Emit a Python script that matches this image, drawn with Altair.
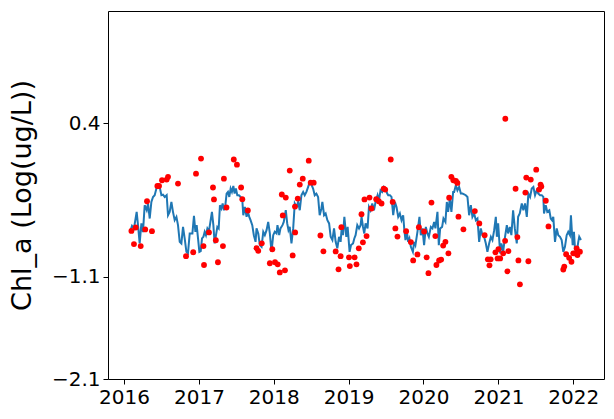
import altair as alt
import pandas as pd

# Modelled series (blue line): decimal year and Chl_a (log ug/L)
line_year = [
    2016.089, 2016.107, 2016.133, 2016.169, 2016.187, 2016.209, 2016.232, 2016.253, 2016.276, 2016.303,
    2016.320, 2016.343, 2016.365, 2016.387, 2016.409, 2016.432, 2016.453, 2016.476, 2016.499, 2016.520,
    2016.543, 2016.569, 2016.587, 2016.609, 2016.632, 2016.653, 2016.676, 2016.699, 2016.720, 2016.743,
    2016.765, 2016.787, 2016.809, 2016.832, 2016.853, 2016.876,
    2016.912, 2016.933, 2016.952, 2016.969, 2016.987, 2017.005, 2017.023, 2017.040, 2017.059, 2017.076,
    2017.093, 2017.112, 2017.133, 2017.156, 2017.173, 2017.192, 2017.209, 2017.227, 2017.245, 2017.263,
    2017.280, 2017.299, 2017.316, 2017.333, 2017.352, 2017.369, 2017.387, 2017.405, 2017.423, 2017.440,
    2017.459, 2017.476, 2017.493, 2017.512, 2017.533, 2017.556, 2017.579, 2017.592, 2017.613, 2017.636,
    2017.653, 2017.672, 2017.689, 2017.712, 2017.733, 2017.756,
    2017.769, 2017.792, 2017.813, 2017.836, 2017.859, 2017.880, 2017.903, 2017.925, 2017.947, 2017.969,
    2017.992, 2018.013, 2018.036, 2018.049, 2018.072, 2018.089, 2018.116, 2018.133, 2018.160, 2018.179,
    2018.196, 2018.213, 2018.236, 2018.259, 2018.280, 2018.303, 2018.325, 2018.347, 2018.369, 2018.392,
    2018.413, 2018.436, 2018.459, 2018.480, 2018.503, 2018.525, 2018.547, 2018.569, 2018.592, 2018.613,
    2018.636,
    2018.649, 2018.672, 2018.693, 2018.716, 2018.739, 2018.760, 2018.783, 2018.805, 2018.827, 2018.849,
    2018.872, 2018.893, 2018.907, 2018.925, 2018.943, 2018.969, 2018.987, 2019.013, 2019.032, 2019.059,
    2019.076, 2019.093, 2019.116, 2019.139, 2019.160, 2019.173, 2019.192, 2019.209, 2019.227, 2019.253,
    2019.272, 2019.293, 2019.316, 2019.339, 2019.360, 2019.387, 2019.405, 2019.427, 2019.449, 2019.472,
    2019.493, 2019.516,
    2019.529, 2019.552, 2019.573, 2019.596, 2019.619, 2019.640, 2019.663, 2019.685, 2019.707, 2019.729,
    2019.743, 2019.760, 2019.779, 2019.796, 2019.813, 2019.832, 2019.859, 2019.876, 2019.893, 2019.920,
    2019.947, 2019.965, 2019.987, 2020.009, 2020.032, 2020.053, 2020.072, 2020.099, 2020.120, 2020.143,
    2020.160, 2020.187, 2020.205, 2020.223, 2020.249, 2020.267, 2020.293, 2020.312, 2020.329, 2020.352,
    2020.373, 2020.396,
    2020.409, 2020.432, 2020.453, 2020.476, 2020.499, 2020.520, 2020.543, 2020.565, 2020.587, 2020.609,
    2020.632, 2020.653, 2020.676, 2020.699, 2020.720, 2020.743, 2020.765, 2020.787, 2020.809, 2020.832,
    2020.853, 2020.876, 2020.899, 2020.920, 2020.943, 2020.965, 2020.979, 2020.996, 2021.023, 2021.040,
    2021.063, 2021.085, 2021.112, 2021.129, 2021.152, 2021.173, 2021.196, 2021.219, 2021.245, 2021.263,
    2021.285,
    2021.312, 2021.333, 2021.356, 2021.379, 2021.400, 2021.423, 2021.445, 2021.467, 2021.489, 2021.512,
    2021.533, 2021.556, 2021.579, 2021.600, 2021.609, 2021.632, 2021.653, 2021.680, 2021.699, 2021.716,
    2021.733, 2021.756, 2021.779, 2021.800, 2021.823, 2021.845, 2021.867, 2021.889, 2021.912, 2021.933,
    2021.956, 2021.969, 2021.992, 2022.009, 2022.023, 2022.045, 2022.067, 2022.080, 2022.103,
]
line_value = [
    -0.644, -0.602, -0.627, -0.465, -0.595, -0.774, -0.578, -0.663, -0.400, -0.449,
    -0.383, -0.530, -0.368, -0.319, -0.302, -0.237, -0.205, -0.221, -0.302, -0.296,
    -0.319, -0.302, -0.498, -0.465, -0.368, -0.465, -0.546, -0.514, -0.595, -0.758,
    -0.774, -0.612, -0.725, -0.856, -0.871, -0.676,
    -0.676, -0.504, -0.660, -0.595, -0.725, -0.856, -0.849, -0.725, -0.709, -0.660,
    -0.693, -0.627, -0.654, -0.546, -0.465, -0.595, -0.774, -0.693, -0.612, -0.627,
    -0.400, -0.432, -0.383, -0.449, -0.400, -0.286, -0.270, -0.319, -0.237, -0.270,
    -0.212, -0.286, -0.237, -0.302, -0.302, -0.319, -0.351, -0.498, -0.417, -0.514,
    -0.465, -0.514, -0.546, -0.595, -0.693, -0.758,
    -0.627, -0.676, -0.790, -0.807, -0.660, -0.693, -0.644, -0.563, -0.676, -0.856,
    -0.693, -0.660, -0.676, -0.595, -0.693, -0.627, -0.595, -0.563, -0.449, -0.578,
    -0.644, -0.612, -0.774, -0.627, -0.383, -0.417, -0.368, -0.449, -0.302, -0.270,
    -0.302, -0.270, -0.221, -0.173, -0.198, -0.237, -0.302, -0.286, -0.319, -0.498,
    -0.432,
    -0.368, -0.498, -0.481, -0.546, -0.578, -0.709, -0.741, -0.627, -0.758, -0.822,
    -0.709, -0.758, -0.627, -0.693, -0.514, -0.709, -0.612, -0.856, -0.790, -0.774,
    -0.725, -0.693, -0.595, -0.627, -0.595, -0.514, -0.612, -0.676, -0.578, -0.627,
    -0.417, -0.449, -0.383, -0.449, -0.368, -0.302, -0.351, -0.254, -0.270, -0.221,
    -0.237, -0.286,
    -0.302, -0.302, -0.319, -0.498, -0.368, -0.417, -0.514, -0.481, -0.546, -0.498,
    -0.627, -0.741, -0.660, -0.758, -0.725, -0.807, -0.856, -0.758, -0.790, -0.660,
    -0.514, -0.693, -0.627, -0.790, -0.612, -0.676, -0.709, -0.612, -0.627, -0.563,
    -0.627, -0.465, -0.790, -0.627, -0.612, -0.530, -0.563, -0.368, -0.465, -0.335,
    -0.465, -0.270,
    -0.270, -0.205, -0.254, -0.221, -0.286, -0.286, -0.293, -0.302, -0.319, -0.498,
    -0.400, -0.514, -0.481, -0.546, -0.530, -0.758, -0.627, -0.693, -0.709, -0.774,
    -0.856, -0.774, -0.709, -0.741, -0.644, -0.514, -0.709, -0.578, -0.871, -0.774,
    -0.856, -0.725, -0.595, -0.676, -0.612, -0.693, -0.449, -0.627, -0.774, -0.514,
    -0.481,
    -0.383, -0.449, -0.383, -0.514, -0.286, -0.319, -0.237, -0.221, -0.302, -0.254,
    -0.286, -0.302, -0.302, -0.319, -0.481, -0.400, -0.465, -0.449, -0.530, -0.546,
    -0.514, -0.758, -0.627, -0.693, -0.709, -0.741, -0.856, -0.807, -0.693, -0.660,
    -0.693, -0.498, -0.790, -0.660, -0.822, -0.871, -0.758, -0.709, -0.741,
]

# Observations (red dots)
obs_year = [
    2016.099, 2016.133, 2016.156, 2016.223, 2016.283, 2016.307, 2016.373, 2016.445, 2016.467, 2016.507,
    2016.569, 2016.587, 2016.720, 2016.827, 2016.923, 2016.960,
    2017.027, 2017.060, 2017.067, 2017.133, 2017.187, 2017.200, 2017.225, 2017.253, 2017.320, 2017.333,
    2017.367, 2017.465, 2017.507, 2017.563, 2017.579, 2017.653, 2017.769, 2017.792, 2017.839, 2017.947,
    2017.980,
    2018.016, 2018.052, 2018.080, 2018.149, 2018.107, 2018.160, 2018.120, 2018.213, 2018.252, 2018.285,
    2018.283, 2018.320, 2018.347, 2018.387, 2018.467, 2018.493, 2018.533, 2018.623, 2018.663, 2018.827,
    2018.865, 2018.893, 2018.903,
    2019.005, 2019.016, 2019.080, 2019.105, 2019.136, 2019.191, 2019.172, 2019.240, 2019.212, 2019.279,
    2019.305, 2019.369, 2019.403, 2019.440, 2019.469, 2019.489, 2019.563, 2019.589, 2019.625, 2019.653,
    2019.769, 2019.832, 2019.863, 2019.920, 2019.939,
    2020.009, 2020.043, 2020.067, 2020.107, 2020.159, 2020.173, 2020.209, 2020.236, 2020.263, 2020.293,
    2020.333, 2020.343, 2020.372, 2020.399, 2020.433, 2020.453, 2020.467, 2020.533, 2020.685, 2020.745,
    2020.816, 2020.859, 2020.896, 2020.880, 2020.960, 2020.989,
    2021.023, 2021.000, 2021.063, 2021.089, 2021.092, 2021.133, 2021.120, 2021.229, 2021.253, 2021.267,
    2021.287, 2021.360, 2021.372, 2021.432, 2021.400, 2021.505, 2021.543, 2021.563, 2021.573, 2021.633,
    2021.669, 2021.867, 2021.880, 2021.905, 2021.945, 2021.976,
    2022.000, 2022.023, 2022.045, 2022.056, 2022.089,
]
obs_value = [
    -0.651, -0.780, -0.618, -0.800, -0.637, -0.361, -0.654, -0.212, -0.212, -0.156,
    -0.149, -0.122, -0.188, -0.898, -0.860, -0.091,
    0.056, -0.800, -0.985, -0.666, -0.227, -0.343, -0.743, -0.958, -0.800, -0.140,
    -0.422, 0.047, -0.003, -0.227, -0.341, -0.452, -0.820, -0.846, -0.773, -0.968,
    -0.831,
    -0.958, -0.978, -1.057, -1.037, -0.295, -0.325, -0.500, -0.061, -0.891, -0.666,
    -0.413, -0.335, -0.198, -0.140, 0.036, -0.179, -0.179, -0.696, -0.851, -0.852,
    -1.027, -0.898, -0.615,
    -0.910, -0.995, -0.910, -0.978, -0.822, -0.763, -0.488, -0.702, -0.343, -0.325,
    -0.432, -0.341, -0.361, -0.383, -0.237, -0.247, 0.047, -0.368, -0.627, -0.707,
    -0.654, -0.761, -0.940, -0.881, -0.615,
    -0.657, -0.910, -1.065, -0.374, -0.702, -0.985, -0.941, -0.932, -0.795, -0.758,
    -0.871, -0.327, -0.122, -0.156, -0.163, -0.182, -0.512, -0.636, -0.457, -0.578,
    -0.693, -0.929, -0.929, -0.988, -0.861, -0.920,
    -0.920, -0.829, -0.871, -0.748, 0.446, -0.849, -1.047, -0.239, -0.712, -0.940,
    -1.174, -0.276, -0.130, -0.149, -0.948, -0.052, -0.247, -0.198, -0.218, -0.356,
    -0.607, -1.029, -1.000, -0.880, -0.915, -0.953,
    -0.871, -0.871, -0.822, -0.888, -0.854,
]

x_tick_years = [2016, 2017, 2018, 2019, 2020, 2021, 2022]
y_tick_values = [-2.1, -1.1, 0.4]
y_title = "Chl_a (Log(ug/L))"

assert len(line_year) == len(line_value)
assert len(obs_year) == len(obs_value)


def to_date(y):
    yr = int(y)
    start = pd.Timestamp(year=yr, month=1, day=1)
    ndays = (pd.Timestamp(year=yr + 1, month=1, day=1) - start).days
    return (start + pd.Timedelta(days=(y - yr) * ndays)).strftime("%Y-%m-%dT%H:%M:%S")


df_line = pd.DataFrame({"date": [to_date(v) for v in line_year], "value": line_value})
df_obs = pd.DataFrame({"date": [to_date(v) for v in obs_year], "value": obs_value})

x_enc = alt.X(
    "date:T",
    scale=alt.Scale(domain=[alt.DateTime(year=2015, month=10, date=15),
                            alt.DateTime(year=2022, month=5, date=31)]),
    axis=alt.Axis(values=[alt.DateTime(year=y, month=1, date=1) for y in x_tick_years],
                  format="%Y", title=None, labelFlush=False, labelOverlap=False),
)
y_enc = alt.Y(
    "value:Q",
    scale=alt.Scale(domain=[-2.1, 1.5], nice=False, zero=False),
    axis=alt.Axis(values=y_tick_values, format=".1f", title=y_title,
                  titleX=-86, titleY=184, titleAngle=-90, titleAlign="center",
                  titleBaseline="middle", labelFlush=False, labelOverlap=False),
)

line = alt.Chart(df_line).mark_line(color="#1f77b4", strokeWidth=2).encode(x=x_enc, y=y_enc)
dots = alt.Chart(df_obs).mark_circle(color="#ff0000", size=34, opacity=1).encode(x=x_enc, y=y_enc)

chart = (
    alt.layer(line, dots)
    .properties(width=496, height=368, autosize="none",
                padding={"left": 108, "top": 11, "right": 10, "bottom": 40})
    .configure(font="DejaVu Sans")
    .configure_view(stroke="black", strokeWidth=1)
    .configure_axis(grid=False, domain=False, labelFontSize=20, labelColor="black",
                    labelFont="DejaVu Sans", tickColor="black", tickSize=5, tickWidth=1,
                    labelPadding=3, titleFontSize=27, titleFontWeight="normal",
                    titleColor="black", titleFont="DejaVu Sans")
)

chart.save("out.html", embed_options={"renderer": "svg", "actions": False})
